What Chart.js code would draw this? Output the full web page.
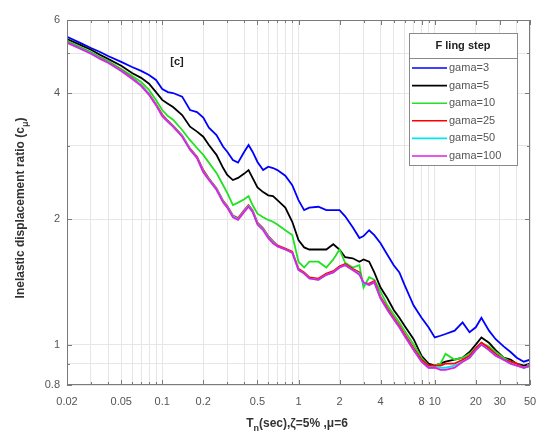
<!DOCTYPE html>
<html><head><meta charset="utf-8">
<script src="https://cdn.jsdelivr.net/npm/chart.js@4.4.1/dist/chart.umd.min.js"></script>
<style>html,body{margin:0;padding:0;background:#fff;overflow:hidden}#wrap{position:relative;width:538px;height:439px}</style>
</head><body><div id="wrap"><canvas id="c" width="538" height="439"></canvas></div>
<script>
const periods = [0.02,0.025,0.03,0.035,0.04,0.05,0.06,0.07,0.08,0.09,0.1,0.11,0.12,0.14,0.16,0.18,0.2,0.22,0.25,0.28,0.3,0.33,0.36,0.4,0.43,0.46,0.5,0.55,0.6,0.65,0.7,0.8,0.9,1.0,1.1,1.2,1.4,1.6,1.8,2.0,2.2,2.5,2.8,3.0,3.3,3.6,4.0,4.5,5,5.5,6,7,8,9,10,11,12,14,16,18,20,22,25,28,32,36,40,45,50];
const gama3 = [5.47,5.29,5.14,5.03,4.92, 4.76,4.63,4.53,4.43,4.31, 4.10,4.03,4.01,3.93,3.65, 3.61,3.50,3.31,3.18,2.98, 2.90,2.77,2.73,2.90,3.01, 2.90,2.74,2.62,2.67,2.65, 2.62,2.54,2.41,2.22,2.10, 2.13,2.14,2.10,2.10,2.10, 2.03,1.91,1.80,1.82,1.88, 1.83,1.75,1.64,1.55,1.49, 1.39,1.24,1.16,1.10,1.04, 1.05,1.06,1.08,1.13,1.07, 1.10,1.16,1.08,1.03,0.99, 0.96,0.93,0.91,0.92];
const gama5 = [5.40,5.23,5.09,4.95,4.84, 4.66,4.48,4.36,4.22,4.03, 3.86,3.78,3.71,3.55,3.33, 3.24,3.15,3.01,2.85,2.65, 2.55,2.48,2.51,2.57,2.62, 2.51,2.38,2.32,2.28,2.27, 2.22,2.13,1.97,1.78,1.71, 1.69,1.69,1.69,1.74,1.69, 1.62,1.61,1.58,1.60,1.58, 1.49,1.37,1.29,1.21,1.16, 1.11,1.03,0.94,0.90,0.89, 0.90,0.91,0.92,0.93,0.96, 1.00,1.04,1.01,0.97,0.93, 0.92,0.90,0.89,0.90];
const gama10 = [5.35,5.17,5.03,4.89,4.79, 4.58,4.41,4.26,4.08,3.86, 3.65,3.53,3.46,3.27,3.09, 2.96,2.85,2.73,2.58,2.41, 2.31,2.16,2.19,2.23,2.27, 2.16,2.06,2.02,1.99,1.97, 1.94,1.88,1.83,1.58,1.53, 1.58,1.58,1.53,1.60,1.69, 1.57,1.53,1.55,1.37,1.45, 1.43,1.34,1.24,1.18,1.13, 1.08,1.00,0.93,0.89,0.89, 0.90,0.95,0.92,0.93,0.95, 0.98,1.01,0.99,0.96,0.93, 0.91,0.90,0.88,0.89];
const gama25 = [5.31,5.14,5.00,4.86,4.76, 4.55,4.36,4.19,3.99,3.77, 3.56,3.44,3.35,3.17,2.95, 2.82,2.62,2.50,2.37,2.21, 2.15,2.04,2.01,2.10,2.16, 2.10,1.96,1.90,1.82,1.77, 1.73,1.70,1.67,1.52,1.49, 1.45,1.44,1.48,1.50,1.54, 1.56,1.52,1.49,1.40,1.40, 1.42,1.30,1.22,1.16,1.11, 1.06,0.98,0.92,0.89,0.89, 0.89,0.90,0.90,0.92,0.94, 0.98,1.01,0.98,0.95,0.92, 0.91,0.90,0.88,0.89];
const gama50 = [5.30,5.13,4.99,4.85,4.75, 4.54,4.35,4.18,3.98,3.76, 3.54,3.43,3.34,3.16,2.94, 2.81,2.60,2.49,2.36,2.20, 2.14,2.03,2.00,2.09,2.15, 2.09,1.95,1.89,1.81,1.76, 1.72,1.69,1.66,1.51,1.48, 1.44,1.43,1.47,1.49,1.53, 1.55,1.51,1.48,1.40,1.39, 1.41,1.29,1.21,1.15,1.10, 1.05,0.97,0.91,0.88,0.88, 0.88,0.88,0.89,0.91,0.93, 0.97,1.00,0.97,0.94,0.92, 0.90,0.89,0.88,0.89];
const gama100 = [5.29,5.12,4.98,4.84,4.74, 4.53,4.34,4.17,3.97,3.75, 3.53,3.42,3.33,3.15,2.93, 2.80,2.59,2.48,2.35,2.19, 2.13,2.02,1.99,2.08,2.14, 2.08,1.94,1.88,1.80,1.75, 1.72,1.69,1.66,1.51,1.48, 1.44,1.43,1.47,1.49,1.53, 1.55,1.51,1.47,1.41,1.39, 1.41,1.29,1.21,1.15,1.10, 1.05,0.97,0.91,0.88,0.88, 0.87,0.87,0.88,0.91,0.93, 0.97,1.00,0.97,0.94,0.92, 0.90,0.89,0.88,0.89];
const seriesNames = ['gama=3','gama=5','gama=10','gama=25','gama=50','gama=100'];
const seriesValues = [gama3,gama5,gama10,gama25,gama50,gama100];
const seriesColors = ['#0000ff','#000000','#22e022','#ff0000','#00e8e8','#e020e0'];
const xTickLabels = [0.02,0.05,0.1,0.2,0.5,1,2,4,8,10,20,30,50];
const xGridValues = [0.02,0.03,0.04,0.05,0.06,0.07,0.08,0.09,0.1,0.2,0.3,0.4,0.5,0.6,0.7,0.8,0.9,1,2,3,4,5,6,7,8,9,10,20,30,40,50];
const yTickLabels = [0.8,1,2,4,6];
const yGridValues = [0.8,0.9,1,2,3,4,5,6];
const legendTitle = 'F ling step';
const panelLabel = '[c]';

const FONT = '"Liberation Sans", Arial, sans-serif';
const near = (a,b) => Math.abs(a-b) < 1e-9*Math.max(1,Math.abs(b));

const datasets = seriesValues.map((vals,i)=>({
  label: seriesNames[i],
  data: periods.map((p,j)=>({x:p,y:vals[j]})),
  borderColor: seriesColors[i],
  backgroundColor: seriesColors[i],
  borderWidth: 1.8,
  pointRadius: 0,
  tension: 0,
  fill: false,
  order: seriesNames.length - i
}));

function drawParts(ctx, parts, x, y) {
  let total = 0;
  parts.forEach(p=>{ ctx.font = p.sub ? 'bold 9px '+FONT : 'bold 12px '+FONT; p.w = ctx.measureText(p.t).width; total += p.w; });
  let cx = x - total/2;
  ctx.textBaseline = 'middle'; ctx.textAlign = 'left';
  parts.forEach(p=>{ ctx.font = p.sub ? 'bold 9px '+FONT : 'bold 12px '+FONT; ctx.fillText(p.t, cx, p.sub ? y+5 : y); cx += p.w; });
}

const deco = {
  id:'deco',
  afterDraw(chart){
    const ctx = chart.ctx, a = chart.chartArea;
    const xs = chart.scales.x, ys = chart.scales.y;
    ctx.save();
    ctx.strokeStyle = '#7a7a7a'; ctx.lineWidth = 1;
    ctx.strokeRect(a.left+0.5, a.top+0.5, a.right-a.left-1, a.bottom-a.top-1);
    ctx.beginPath();
    xGridValues.forEach(v=>{ const px = Math.round(xs.getPixelForValue(v))+0.5; const L = xTickLabels.some(t=>near(t,v)) ? 5 : 3;
      ctx.moveTo(px,a.bottom); ctx.lineTo(px,a.bottom-L); ctx.moveTo(px,a.top); ctx.lineTo(px,a.top+L); });
    yGridValues.forEach(v=>{ const py = Math.round(ys.getPixelForValue(v))+0.5; const L = yTickLabels.some(t=>near(t,v)) ? 5 : 3;
      ctx.moveTo(a.left,py); ctx.lineTo(a.left+L,py); ctx.moveTo(a.right,py); ctx.lineTo(a.right-L,py); });
    ctx.stroke();
    ctx.fillStyle = '#333';
    drawParts(ctx, [{t:'T'},{t:'n',sub:true},{t:'(sec),ζ=5% ,μ=6'}], 297, 424);
    ctx.save(); ctx.translate(21, 208); ctx.rotate(-Math.PI/2);
    drawParts(ctx, [{t:'Inelastic displacement ratio (c'},{t:'μ',sub:true},{t:')'}], 0, 0);
    ctx.restore();
    ctx.font = 'bold 11px '+FONT; ctx.textAlign='center'; ctx.textBaseline='middle'; ctx.fillStyle='#222';
    ctx.fillText(panelLabel, 177, 62);
    const lx = 409, ly = 33, lw = 108, lh = 132;
    ctx.fillStyle = '#fff'; ctx.fillRect(lx, ly, lw, lh);
    ctx.strokeStyle = '#8a8a8a'; ctx.lineWidth = 1; ctx.strokeRect(lx+0.5, ly+0.5, lw, lh);
    ctx.beginPath(); ctx.moveTo(lx, 58.5); ctx.lineTo(lx+lw, 58.5); ctx.stroke();
    ctx.fillStyle = '#222'; ctx.font = 'bold 11px '+FONT; ctx.textAlign='center';
    ctx.fillText(legendTitle, lx+lw/2, 46);
    ctx.font = '11px '+FONT; ctx.textAlign='left';
    seriesNames.forEach((n,i)=>{
      const yy = 68 + i*17.6;
      ctx.strokeStyle = seriesColors[i]; ctx.lineWidth = 1.6;
      ctx.beginPath(); ctx.moveTo(lx+3, yy); ctx.lineTo(lx+38, yy); ctx.stroke();
      ctx.fillStyle = '#555'; ctx.fillText(n, lx+40, yy);
    });
    ctx.restore();
  }
};

new Chart(document.getElementById('c'), {
  type:'line',
  data:{datasets},
  options:{
    responsive:false, animation:false, devicePixelRatio:1,
    layout:{padding:{top:20,right:8,left:0,bottom:0}},
    plugins:{legend:{display:false}, tooltip:{enabled:false}},
    scales:{
      x:{type:'logarithmic', min:0.02, max:50,
        afterBuildTicks: s=>{ s.ticks = xGridValues.map(v=>({value:v})); },
        afterFit: s=>{ s.height = 54; s.paddingLeft = 0; s.paddingRight = 0; },
        ticks:{autoSkip:false, maxRotation:0, minRotation:0, padding:10, color:'#555', font:{family:FONT,size:11},
          callback:(v)=>{ const t = xTickLabels.find(t=>near(t,v)); return t===undefined ? '' : String(t); }},
        grid:{color:'#e6e6e6', lineWidth:1, drawTicks:false}, border:{display:false}},
      y:{type:'logarithmic', min:0.8, max:6,
        afterBuildTicks: s=>{ s.ticks = yGridValues.map(v=>({value:v})); },
        afterFit: s=>{ s.width = 67; s.paddingTop = 0; s.paddingBottom = 0; },
        ticks:{autoSkip:false, padding:7, color:'#555', font:{family:FONT,size:11},
          callback:(v)=>{ const t = yTickLabels.find(t=>near(t,v)); return t===undefined ? '' : String(t); }},
        grid:{color:'#e6e6e6', lineWidth:1, drawTicks:false}, border:{display:false}}
    }
  },
  plugins:[deco]
});
</script></body></html>
